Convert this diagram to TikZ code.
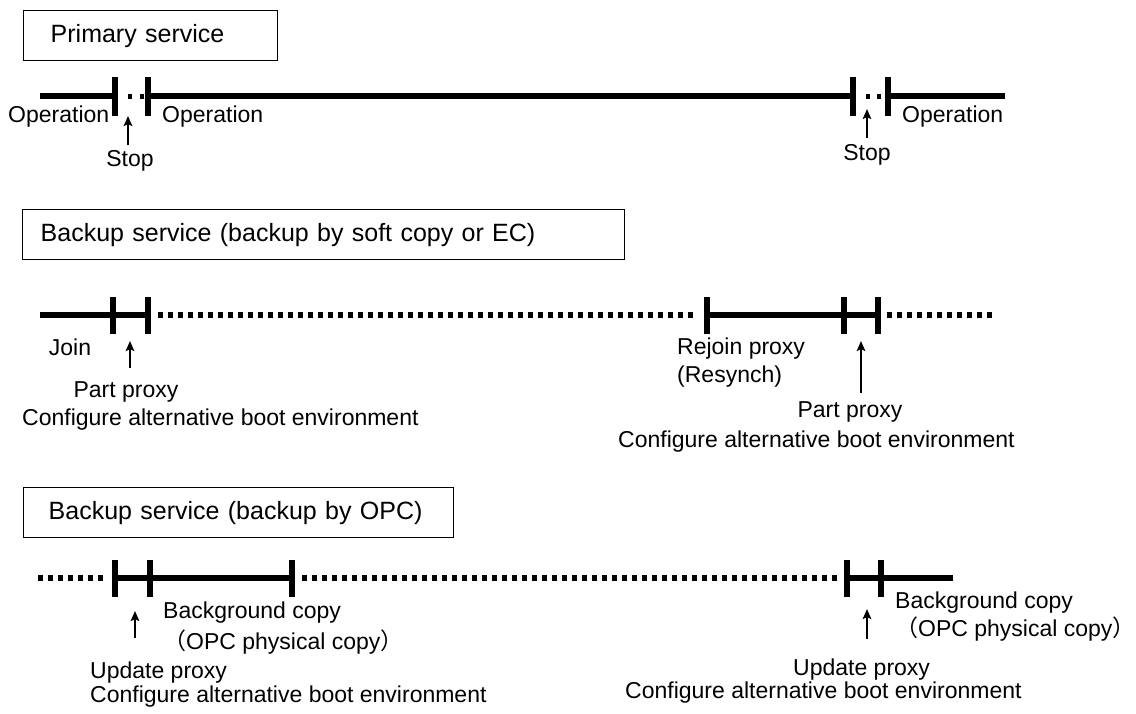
\documentclass[tikz,border=0pt]{standalone}
\usepackage{fontspec}
\setmainfont{Liberation Sans}
\newfontfamily\cjkfont{Noto Sans CJK JP}
\usetikzlibrary{arrows.meta}
\tikzset{
  solidline/.style={line width=5.5pt},
  dotline/.style={line width=5.5pt, dash pattern=on 5pt off 5pt},
  tickmark/.style={rectangle, fill=black, draw=none, inner sep=0pt, minimum width=6pt, minimum height=37pt},
  uparrow/.style={line width=2.2pt, -{Stealth[length=10pt,width=8.5pt,inset=2pt]}},
  lbl/.style={inner sep=0pt, font=\fontsize{23}{26}\selectfont},
  titlebox/.style={draw, line width=1.4pt, anchor=north west, inner ysep=0pt, minimum height=50pt, align=left, font=\fontsize{25}{28}\selectfont}
}
\begin{document}
\begin{tikzpicture}[x=1pt,y=-1pt]
\useasboundingbox (0,0) rectangle (1136,713);

% ---------------- Primary service ----------------
\node[titlebox, inner xsep=27pt, text width=200pt] (t1) at (23,10) {Primary service};
\coordinate (a0) at (40,96);
\node[tickmark, minimum height=39pt] (a1) at (115,96) {};
\node[tickmark, minimum height=39pt] (a2) at (148,96) {};
\node[tickmark, minimum height=39pt] (a3) at (853,96) {};
\node[tickmark, minimum height=39pt] (a4) at (888,96) {};
\coordinate (a5) at (1005,96);
\draw[solidline] (a0) -- (a1);
\draw[solidline] (a2) -- (a3);
\draw[solidline] (a4) -- (a5);
\draw[line width=5pt, dash pattern=on 4pt off 8pt] (a1) ++(13,0) coordinate (d1) -- (a2);
\draw[line width=5pt, dash pattern=on 4pt off 7pt] (a3) ++(13,0) coordinate (d2) -- (a4);
\node[lbl, anchor=west] (op1) at (8,117) {Operation};
\node[lbl, anchor=west] (op2) at (162,117) {Operation};
\node[lbl, anchor=west] (op3) at (902,117) {Operation};
\node[lbl] (stop1) at (130,161) {Stop};
\node[lbl] (stop2) at (867,155) {Stop};
\coordinate (s1a) at (128,145); \coordinate (s1b) at (128,116);
\coordinate (s2a) at (867,138); \coordinate (s2b) at (867,109);
\draw[uparrow] (s1a) -- (s1b);
\draw[uparrow] (s2a) -- (s2b);

% ---------------- Backup service (soft copy / EC) ----------------
\node[titlebox, inner xsep=18pt, text width=566pt] (t2) at (22,209) {Backup service (backup by soft copy or EC)};
\coordinate (b0) at (40,315);
\node[tickmark] (b1) at (113,315) {};
\node[tickmark] (b2) at (148,315) {};
\node[tickmark] (b3) at (707,315) {};
\node[tickmark] (b4) at (844,315) {};
\node[tickmark] (b5) at (878,315) {};
\coordinate (b6) at (997,315);
\draw[solidline] (b0) -- (b1);
\draw[solidline] (b1) -- (b2);
\draw[dotline, shorten <=7pt, shorten >=6pt] (b2) -- (b3);
\draw[solidline] (b3) -- (b4);
\draw[solidline] (b4) -- (b5);
\draw[dotline, shorten <=6pt] (b5) -- (b6);
\node[lbl] (join) at (70,347) {Join};
\node[lbl] (pp1) at (126,392) {Part proxy};
\node[lbl, anchor=west] (cf1) at (22,420) {Configure alternative boot environment};
\node[lbl, anchor=west] (rj) at (677,349) {Rejoin proxy};
\node[lbl, anchor=west] (rs) at (677,377) {(Resynch)};
\node[lbl] (pp2) at (850,412) {Part proxy};
\node[lbl, anchor=west] (cf2) at (618,442) {Configure alternative boot environment};
\coordinate (p1a) at (130,368); \coordinate (p1b) at (130,341);
\coordinate (p2a) at (861,393); \coordinate (p2b) at (861,341);
\draw[uparrow] (p1a) -- (p1b);
\draw[uparrow] (p2a) -- (p2b);

% ---------------- Backup service (OPC) ----------------
\node[titlebox, inner xsep=25pt, text width=380pt] (t3) at (23,487) {Backup service (backup by OPC)};
\coordinate (c0) at (38,578);
\node[tickmark] (c1) at (115,578) {};
\node[tickmark] (c2) at (150,578) {};
\node[tickmark] (c3) at (292,578) {};
\node[tickmark] (c4) at (847,578) {};
\node[tickmark] (c5) at (881,578) {};
\coordinate (c6) at (953,578);
\draw[dotline, shorten >=5pt] (c0) -- (c1);
\draw[solidline] (c1) -- (c2);
\draw[solidline] (c2) -- (c3);
\draw[dotline, shorten <=7pt, shorten >=4pt] (c3) -- (c4);
\draw[solidline] (c4) -- (c5);
\draw[solidline] (c5) -- (c6);
\node[lbl, anchor=west] (bg1) at (163,613) {Background copy};
\node[lbl, anchor=west] (opc1) at (163,642) {{\cjkfont （}OPC physical copy{\cjkfont ）}};
\node[lbl, anchor=west] (up1) at (90,673) {Update proxy};
\node[lbl, anchor=west] (cf3) at (90,697) {Configure alternative boot environment};
\node[lbl, anchor=west] (bg2) at (895,603) {Background copy};
\node[lbl, anchor=west] (opc2) at (895,629) {{\cjkfont （}OPC physical copy{\cjkfont ）}};
\node[lbl, anchor=west] (up2) at (793,670) {Update proxy};
\node[lbl, anchor=west] (cf4) at (625,693) {Configure alternative boot environment};
\coordinate (u1a) at (135,638); \coordinate (u1b) at (135,611);
\coordinate (u2a) at (867,639); \coordinate (u2b) at (867,609);
\draw[uparrow] (u1a) -- (u1b);
\draw[uparrow] (u2a) -- (u2b);
\end{tikzpicture}
\end{document}
